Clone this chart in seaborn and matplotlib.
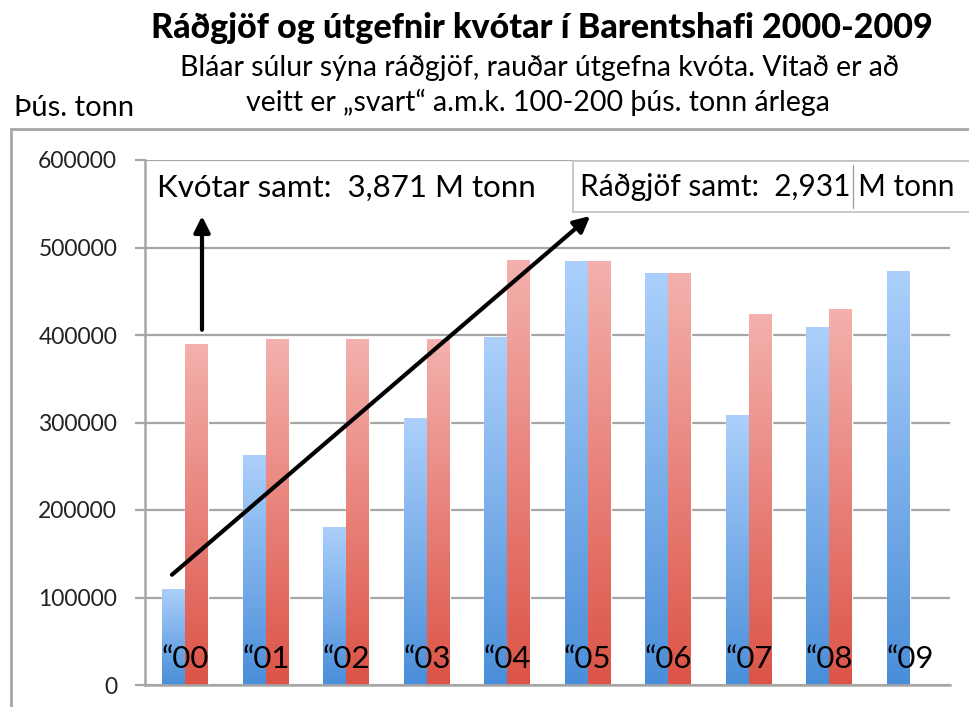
import numpy as np
import pandas as pd
import matplotlib
matplotlib.use("Agg")
import matplotlib.pyplot as plt
from matplotlib.colors import LinearSegmentedColormap
from matplotlib.patches import Rectangle
from matplotlib.lines import Line2D
import seaborn as sns

# Barents Sea cod 2000-2009, tonnes
years = ["“00", "“01", "“02", "“03", "“04", "“05", "“06", "“07", "“08", "“09"]
advice = [110000, 263000, 181000, 305000, 398000, 485000, 471000, 309000, 409000, 473000]
quota = [390000, 395000, 395000, 395000, 486000, 485000, 471000, 424000, 430000]
y_ticks = [0, 100000, 200000, 300000, 400000, 500000, 600000]

title = "Ráðgjöf og útgefnir kvótar í Barentshafi 2000-2009"
subtitle_1 = "Bláar súlur sýna ráðgjöf, rauðar útgefna kvóta. Vitað er að"
subtitle_2 = "veitt er „svart“ a.m.k. 100-200 þús. tonn árlega"
unit_label = "Þús. tonn"
quota_note = "Kvótar samt:  3,871 M tonn"
advice_note = "Ráðgjöf samt:  2,931 M tonn"

rows = [(y, "Ráðgjöf", v) for y, v in zip(years, advice)]
rows += [(y, "Kvótar", v) for y, v in zip(years, quota)]
df = pd.DataFrame(rows, columns=["ár", "röð", "tonn"])

sns.set_theme(style="white")
plt.rcParams["font.family"] = ["Lato", "DejaVu Sans"]

W, H = 969, 707
fig = plt.figure(figsize=(W / 100, H / 100), dpi=100)
ax = fig.add_axes([145 / W, 1 - 685 / H, (950 - 145) / W, (685 - 160) / H])

blue_top, blue_bot = "#acd0fb", "#4a8ed9"
red_top, red_bot = "#f4b1ad", "#dc5347"

sns.barplot(data=df, x="ár", y="tonn", hue="röð", hue_order=["Ráðgjöf", "Kvótar"],
            order=years, palette=[blue_bot, red_bot], width=0.57, gap=0,
            saturation=1, errorbar=None, legend=False, ax=ax, zorder=2)

# vertical gradient on every bar: light at the top, deeper at the base
cmaps = {
    "blue": LinearSegmentedColormap.from_list("b", [blue_bot, blue_top]),
    "red": LinearSegmentedColormap.from_list("r", [red_bot, red_top]),
}
grad = np.linspace(1, 0, 256).reshape(-1, 1)
for patch in list(ax.patches):
    h = patch.get_height()
    if not np.isfinite(h) or h <= 0:
        continue
    x0 = patch.get_x()
    w = patch.get_width()
    fc = patch.get_facecolor()
    key = "blue" if fc[2] > fc[0] else "red"
    im = ax.imshow(grad, extent=[x0, x0 + w, 0, h], aspect="auto",
                   cmap=cmaps[key], origin="upper", zorder=2.1,
                   interpolation="bilinear")
    im.set_clip_path(patch)

ax.set_xlim(-0.5, 9.5)
ax.set_ylim(0, 600000)
ax.set_xlabel("")
ax.set_ylabel("")
ax.set_yticks(y_ticks)
ax.set_yticklabels([str(v) for v in y_ticks], fontsize=16.5, color="#222222")
ax.tick_params(axis="y", length=7, width=1.6, color="#a6a6a6", pad=13, left=True)
ax.tick_params(axis="x", length=0, labelbottom=False)
ax.yaxis.grid(True, color="#a6a6a6", lw=1.6)
ax.set_axisbelow(True)
for side in ["top", "right"]:
    ax.spines[side].set_visible(False)
for side in ["left", "bottom"]:
    ax.spines[side].set_color("#a6a6a6")
    ax.spines[side].set_linewidth(1.8)

# year labels sit inside the plot, near the base of the bars
for i, lab in enumerate(years):
    ax.text(i, 30000, lab, ha="center", va="center", fontsize=22.5, color="black", zorder=5)

# arrows
ax.annotate("", xy=(0.208, 536000), xytext=(0.208, 406000),
            arrowprops=dict(arrowstyle="-|>", lw=3, color="black", mutation_scale=24,
                            shrinkA=0, shrinkB=0), annotation_clip=False, zorder=6)
ax.annotate("", xy=(5.03, 536000), xytext=(-0.165, 126000),
            arrowprops=dict(arrowstyle="-|>", lw=3, color="black", mutation_scale=24,
                            shrinkA=0, shrinkB=0), annotation_clip=False, zorder=6)

# outer chart frame
fig.add_artist(Rectangle((11 / W, -0.1), 1.2, (707 - 129) / H + 0.1,
                         transform=fig.transFigure, fill=False,
                         edgecolor="#a6a6a6", lw=2))

# titles
fig.text(542 / W, 1 - 28 / H, title, ha="center", va="center", fontsize=24.5,
         fontweight="black", color="black")
fig.text(540 / W, 1 - 68 / H, subtitle_1, ha="center", va="center", fontsize=20.5, color="black")
fig.text(538 / W, 1 - 102 / H, subtitle_2, ha="center", va="center", fontsize=20.5, color="black")
fig.text(14 / W, 1 - 108 / H, unit_label, ha="left", va="center", fontsize=21, color="black")

# totals
fig.text(157 / W, 1 - 188 / H, quota_note, ha="left", va="center", fontsize=22.5, color="black")
fig.add_artist(Rectangle((573 / W, 1 - 212 / H), 0.6, (212 - 161) / H,
                         transform=fig.transFigure, facecolor="white",
                         edgecolor="#c4c4c4", lw=1.3, zorder=3))
fig.text(580 / W, 1 - 187 / H, advice_note, ha="left", va="center", fontsize=21.5,
         color="black", zorder=4)
fig.add_artist(Line2D([853 / W, 853 / W], [1 - 208 / H, 1 - 165 / H],
                      transform=fig.transFigure, color="#9a9a9a", lw=0.9, zorder=4))

fig.savefig("out.png", dpi=100)
